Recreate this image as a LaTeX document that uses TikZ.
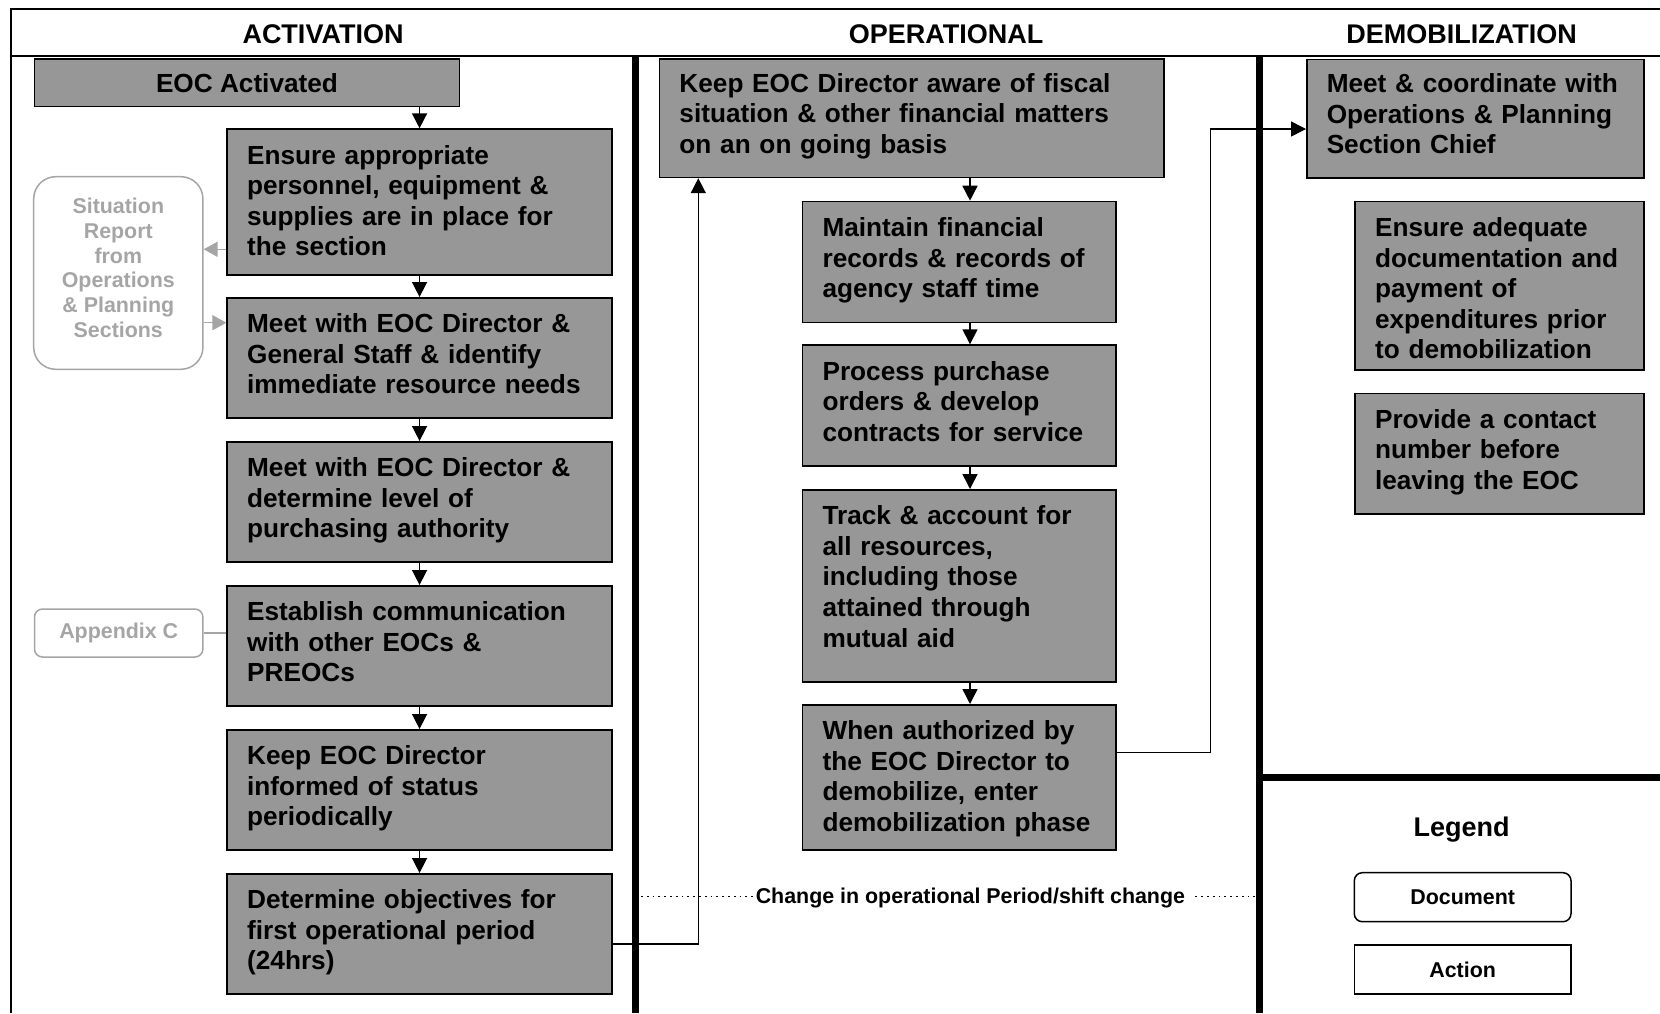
\documentclass[tikz,border=0pt]{standalone}
\usepackage{fontspec}
\setmainfont{Liberation Sans}
\usetikzlibrary{arrows.meta}
\definecolor{boxgray}{RGB}{151,151,151}
\definecolor{docgray}{RGB}{165,165,165}
\newcommand\bxfont{\fontsize{13.1}{15.3}\selectfont\bfseries}
\newcommand\hdfont{\fontsize{13.5}{16}\selectfont\bfseries}
\newcommand\smfont{\fontsize{10.7}{12.4}\selectfont\bfseries}

\begin{document}
\begin{tikzpicture}[x=0.5pt,y=-0.5pt,
  act/.style={draw=black, line width=0.75pt, fill=boxgray, anchor=north west,
    font=\bxfont, align=left, inner xsep=10pt, inner ysep=0pt, text height=17.5pt},
  arr/.style={line width=0.75pt, -{Triangle[length=7.5pt,width=7.5pt]}},
  garr/.style={draw=docgray, line width=0.75pt, -{Triangle[length=7pt,width=7.5pt]}},
  docbox/.style={draw=docgray, line width=0.75pt, text=docgray, font=\smfont, align=center, inner sep=0pt},
  frame/.style={line width=1pt},
  lane/.style={line width=3.5pt},
  dots/.style={line width=0.9pt, dash pattern=on 0.9pt off 2pt},
  phase/.style={font=\hdfont, anchor=base}]

\useasboundingbox (0,0) rectangle (1660,1013);

% frame and swim lanes
\draw[frame] (10.5,1013) -- (10.5,9) -- (1660,9);
\draw[frame] (10.5,56) -- (1660,56);
\draw[lane] (635,56) -- (635,1013);
\draw[lane] (1259,56) -- (1259,1013);
\draw[lane] (1259,777.4) -- (1660,777.4);

% phase headings
\node[phase] (hact) at (323,43.3) {ACTIVATION};
\node[phase] (hop)  at (946,43.3) {OPERATIONAL};
\node[phase] (hdem) at (1461.7,43.3) {DEMOBILIZATION};

% activation
\node[draw=black, line width=0.75pt, fill=boxgray, anchor=north west, minimum width=212.55pt,
  minimum height=23.7pt, inner sep=0pt, font=\bxfont] (eoc) at (33.7,58.3) {EOC Activated};
\node[act, text width=172.4pt, text depth=55.35pt] (a1) at (226.4,128.3)
  {Ensure appropriate\\personnel, equipment \&\\supplies are in place for\\the section};
\node[act, text width=172.4pt, text depth=42.5pt] (a2) at (226.4,297)
  {Meet with EOC Director \&\\General Staff \& identify\\immediate resource needs};
\node[act, text width=172.4pt, text depth=42.5pt] (a3) at (226.4,441)
  {Meet with EOC Director \&\\determine level of\\purchasing authority};
\node[act, text width=172.4pt, text depth=42.5pt] (a4) at (226.4,585)
  {Establish communication\\with other EOCs \&\\PREOCs};
\node[act, text width=172.4pt, text depth=42.5pt] (a5) at (226.4,729)
  {Keep EOC Director\\informed of status\\periodically};
\node[act, text width=172.4pt, text depth=42.5pt] (a6) at (226.4,873)
  {Determine objectives for\\first operational period\\(24hrs)};

\node[docbox, rounded corners=11pt, minimum width=84.6pt, minimum height=96.3pt,
  label={[font=\smfont, text=docgray, align=center, yshift=2.6pt]center:{Situation\\Report\\from\\Operations\\\& Planning\\Sections}}]
  (sit) at (118.3,273) {};
\node[docbox, rounded corners=4pt, minimum width=84.2pt, minimum height=24pt] (app) at (118.7,633)
  {Appendix C};

% operational
\node[act, text width=232.15pt, text height=16.6pt, text depth=42.6pt] (o1) at (658.7,58.3)
  {Keep EOC Director aware of fiscal\\situation \& other financial matters\\on an on going basis};
\node[act, text width=136.6pt, text depth=43pt] (o2) at (801.8,200.7)
  {Maintain financial\\records \& records of\\agency staff time};
\node[act, text width=136.6pt, text depth=42.85pt] (o3) at (801.8,344.3)
  {Process purchase\\orders \& develop\\contracts for service};
\node[act, text width=136.6pt, text depth=78.5pt] (o4) at (801.8,489)
  {Track \& account for\\all resources,\\including those\\attained through\\mutual aid};
\node[act, text width=136.6pt, text depth=55pt] (o5) at (801.8,704)
  {When authorized by\\the EOC Director to\\demobilize, enter\\demobilization~phase};

% demobilization
\node[act, text width=148.65pt, text height=16.6pt, text depth=42.8pt] (d1) at (1306,58.5)
  {Meet \& coordinate with\\Operations \& Planning\\Section Chief};
\node[act, text width=124.5pt, text depth=66.6pt] (d2) at (1354.3,200.8)
  {Ensure adequate\\documentation~and\\payment of\\expenditures prior\\to demobilization};
\node[act, text width=124.5pt, text depth=42.7pt] (d3) at (1354.3,392.6)
  {Provide a contact\\number before\\leaving the EOC};

% legend
\node[phase] (leg) at (1461.7,836.5) {Legend};
\node[draw=black, line width=0.75pt, rounded corners=4pt, minimum width=108.35pt, minimum height=24.5pt,
  inner sep=0pt, font=\smfont] (ldoc) at (1462.65,897.2) {Document};
\node[draw=black, line width=0.75pt, minimum width=108.35pt, minimum height=24.5pt,
  inner sep=0pt, font=\smfont] (lact) at (1462.65,969.5) {Action};

% shift change marker
\node[font=\smfont, inner sep=0pt, anchor=base] (shift) at (970.4,903)
  {Change in operational Period/shift change};
\coordinate (sl) at (641,896.5);
\coordinate (sr) at (1264,896.5);
\draw[dots] (sl) -- (sl -| shift.west);
\draw[dots] ([xshift=5pt]sr -| shift.east) -- (sr);

% activation flow
\draw[arr] (eoc.south -| a1.north) -- (a1.north);
\draw[arr] (a1.south) -- (a2.north);
\draw[arr] (a2.south) -- (a3.north);
\draw[arr] (a3.south) -- (a4.north);
\draw[arr] (a4.south) -- (a5.north);
\draw[arr] (a5.south) -- (a6.north);

\coordinate (g1) at (0,249.3);
\coordinate (g2) at (0,322.7);
\draw[garr] (a1.west |- g1) -- (sit.east |- g1);
\draw[garr] (sit.east |- g2) -- (a2.west |- g2);
\draw[docgray, line width=0.75pt] (app.east) -- (app.east -| a4.west);

% operational flow
\coordinate (xo) at (970,0);
\draw[arr] (o1.south -| xo) -- (o2.north -| xo);
\draw[arr] (o2.south -| xo) -- (o3.north -| xo);
\draw[arr] (o3.south -| xo) -- (o4.north -| xo);
\draw[arr] (o4.south -| xo) -- (o5.north -| xo);

\coordinate (up) at (698.3,944);
\draw[arr] (a6.east |- up) -| (o1.south -| up);

\coordinate (dm) at (1210.5,129);
\coordinate (dmy) at (0,752.6);
\draw[arr] (o5.east |- dmy) -| (dm) -- (d1.west |- dm);

\end{tikzpicture}
\end{document}
